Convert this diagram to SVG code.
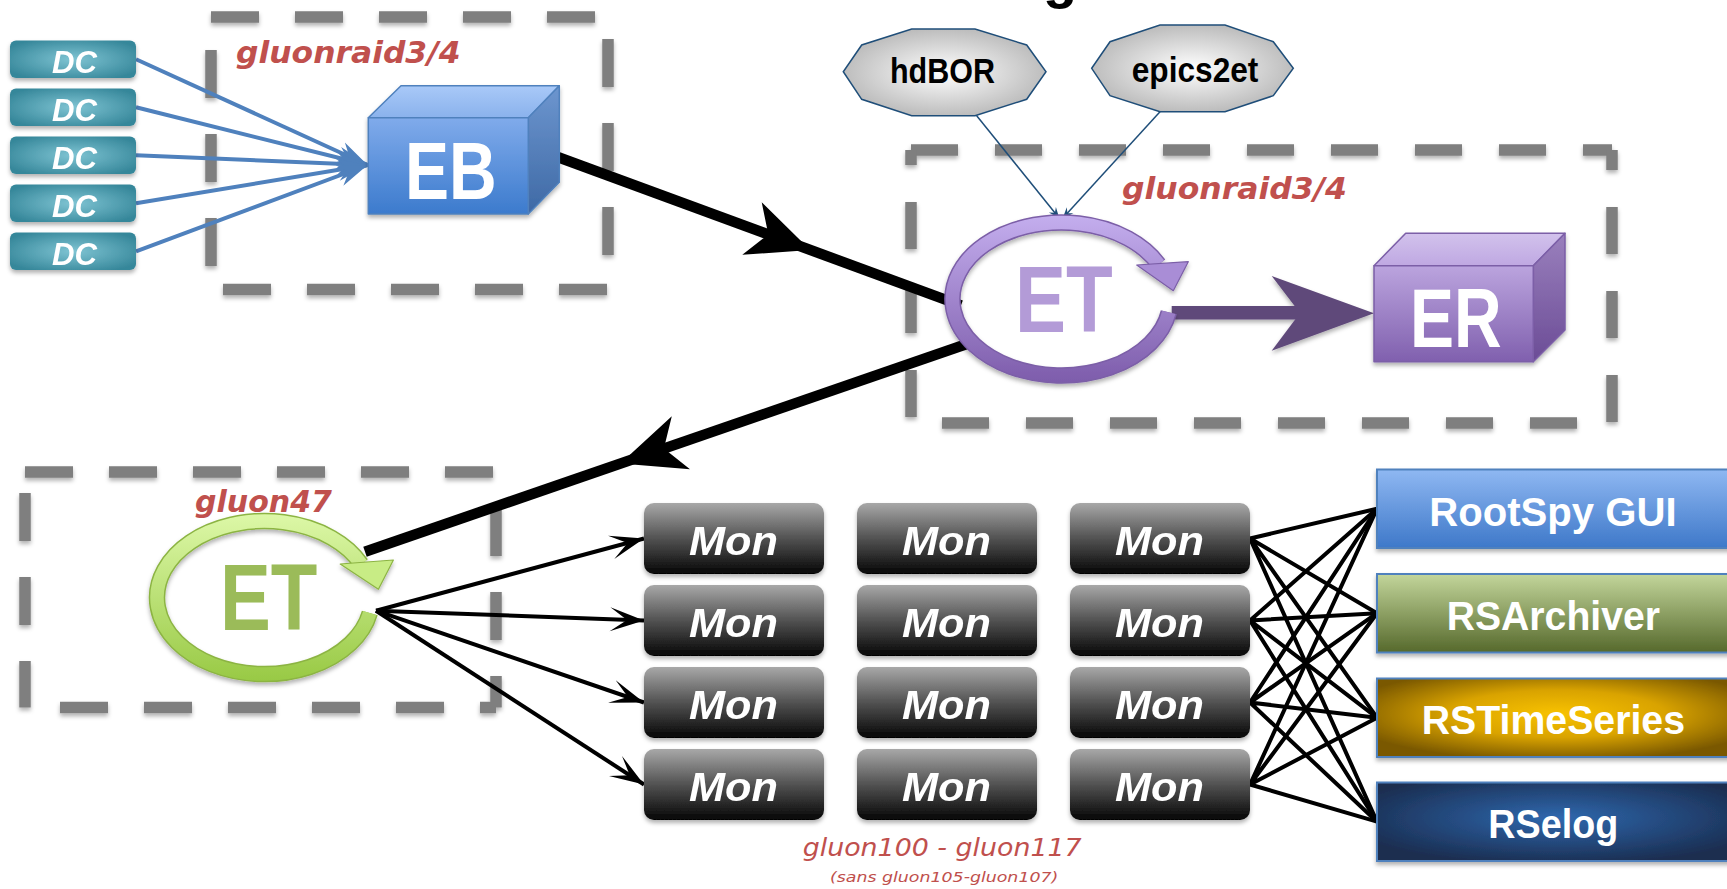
<svg xmlns="http://www.w3.org/2000/svg" width="1727" height="889" viewBox="0 0 1727 889">
<defs>
<style>
.sans{font-family:"Liberation Sans",Arial,sans-serif;font-weight:bold}
.wi{font-family:"Liberation Sans",Arial,sans-serif;font-weight:bold;font-style:italic;fill:#fff}
.red{font-family:"DejaVu Sans",sans-serif;font-style:italic;fill:#c0504d}
.dash{fill:none;stroke:#7f7f7f;stroke-width:11.5}
.d1{stroke-dasharray:48 36}
.d2{stroke-dasharray:47 37}
.mon{fill:url(#gMon)}
.k4{stroke:#000;stroke-width:4;fill:none}
.blue{stroke:#4f81bd;stroke-width:4;fill:none}
.navy{stroke:#1f4e79;stroke-width:1.5;fill:none}
.rbox{stroke:#4f81bd;stroke-width:2}
</style>
<filter id="sh" x="-10%" y="-20%" width="120%" height="150%">
<feDropShadow dx="0" dy="3" stdDeviation="2" flood-color="#000" flood-opacity="0.3"/>
</filter>
<linearGradient id="gMon" x1="0" y1="0" x2="0" y2="1">
<stop offset="0" stop-color="#a8a8a8"/><stop offset="0.45" stop-color="#5a5a5a"/><stop offset="1" stop-color="#050505"/>
</linearGradient>
<radialGradient id="gDC" cx="0.5" cy="0.5" r="0.6">
<stop offset="0" stop-color="#7fc4d3"/><stop offset="1" stop-color="#36879a"/>
</radialGradient>
<radialGradient id="gOct" cx="0.5" cy="0.5" r="0.6">
<stop offset="0" stop-color="#ffffff"/><stop offset="1" stop-color="#b0b0b0"/>
</radialGradient>
<linearGradient id="gRoot" x1="0" y1="0" x2="0" y2="1"><stop offset="0" stop-color="#8fb8f2"/><stop offset="1" stop-color="#3e78c9"/></linearGradient>
<linearGradient id="gArch" x1="0" y1="0" x2="0" y2="1"><stop offset="0" stop-color="#c3d69b"/><stop offset="1" stop-color="#56692c"/></linearGradient>
<radialGradient id="gTime" cx="0.5" cy="0.45" r="0.6"><stop offset="0" stop-color="#f8c200"/><stop offset="0.5" stop-color="#d9a300"/><stop offset="1" stop-color="#7a5800"/></radialGradient>
<radialGradient id="gElog" cx="0.5" cy="0.45" r="0.6"><stop offset="0" stop-color="#2f68ae"/><stop offset="1" stop-color="#1a2d50"/></radialGradient>
<linearGradient id="gEBf" x1="0" y1="0" x2="0" y2="1"><stop offset="0" stop-color="#80abeb"/><stop offset="1" stop-color="#3c7bcd"/></linearGradient>
<linearGradient id="gEBt" x1="0" y1="0" x2="0" y2="1"><stop offset="0" stop-color="#a9c9f8"/><stop offset="1" stop-color="#8ab2ec"/></linearGradient>
<linearGradient id="gEBr" x1="0" y1="0" x2="0" y2="1"><stop offset="0" stop-color="#6d96cf"/><stop offset="1" stop-color="#3e69a5"/></linearGradient>
<linearGradient id="gERf" x1="0" y1="0" x2="0" y2="1"><stop offset="0" stop-color="#bba4de"/><stop offset="1" stop-color="#8060ae"/></linearGradient>
<linearGradient id="gERt" x1="0" y1="0" x2="0" y2="1"><stop offset="0" stop-color="#d2c2ec"/><stop offset="1" stop-color="#bfa8e2"/></linearGradient>
<linearGradient id="gERr" x1="0" y1="0" x2="0" y2="1"><stop offset="0" stop-color="#9a80bd"/><stop offset="1" stop-color="#6b4c96"/></linearGradient>
<linearGradient id="gRingP" gradientUnits="userSpaceOnUse" x1="0" y1="215" x2="0" y2="383"><stop offset="0" stop-color="#c4aeee"/><stop offset="1" stop-color="#7d5cab"/></linearGradient>
<linearGradient id="gRingG" gradientUnits="userSpaceOnUse" x1="0" y1="513" x2="0" y2="682"><stop offset="0" stop-color="#ddf8a8"/><stop offset="1" stop-color="#98c944"/></linearGradient>
<marker id="mBlue" viewBox="-32 -12 34 24" markerWidth="34" markerHeight="24" markerUnits="userSpaceOnUse" refX="0" refY="0" orient="auto" overflow="visible">
<path d="M0,0 L-30,-11 L-20,0 L-30,11 Z" fill="#4f81bd"/>
</marker>
<marker id="mBlack" viewBox="-36 -13 38 26" markerWidth="38" markerHeight="26" markerUnits="userSpaceOnUse" refX="0" refY="0" orient="auto" overflow="visible">
<path d="M0,0 L-34,-12 L-17,0 L-34,12 Z" fill="#000"/>
</marker>
<marker id="mNavy" viewBox="-12 -5 13 10" markerWidth="13" markerHeight="10" markerUnits="userSpaceOnUse" refX="0" refY="0" orient="auto" overflow="visible">
<path d="M0,0 L-11,-4.5 L-7,0 L-11,4.5 Z" fill="#1f4e79"/>
</marker>
</defs>
<rect width="1727" height="889" fill="#ffffff"/>
<text class="sans" x="1060" y="-3.5" font-size="56" font-weight="normal" text-anchor="middle" fill="#000">g</text>

<g id="containers" filter="url(#sh)">
<g id="box-eb">
<path class="dash d1" d="M211,17 H608" stroke-dashoffset="0"/>
<path class="dash d1" d="M608,17 V290" stroke-dashoffset="62"/>
<path class="dash d1" d="M211,289.5 H608" stroke-dashoffset="72"/>
<path class="dash d1" d="M211,17 V290" stroke-dashoffset="51"/>
</g>
<g id="box-et">
<path class="dash d2" d="M911,150 H1612" stroke-dashoffset="0"/>
<path class="dash d2" d="M911,150 V423" stroke-dashoffset="32"/>
<path class="dash d2" d="M1612,150 V423" stroke-dashoffset="27"/>
<path class="dash d2" d="M911,423 H1612" stroke-dashoffset="53"/>
</g>
<g id="box-gluon47">
<path class="dash d1" d="M25,472 H496" stroke-dashoffset="0"/>
<path class="dash d1" d="M25,472 V707.5" stroke-dashoffset="63"/>
<path class="dash d1" d="M496,472 V707.5" stroke-dashoffset="48"/>
<path class="dash d1" d="M25,707.5 H496" stroke-dashoffset="49"/>
</g>
</g>

<g id="connectors">
<path class="blue" marker-end="url(#mBlue)" d="M136,59.3 L367.6,165"/>
<path class="blue" marker-end="url(#mBlue)" d="M136,107.3 L367.6,165"/>
<path class="blue" marker-end="url(#mBlue)" d="M136,155.3 L367.6,165"/>
<path class="blue" marker-end="url(#mBlue)" d="M136,203.3 L367.6,165"/>
<path class="blue" marker-end="url(#mBlue)" d="M136,251.3 L367.6,165"/>
<path d="M558.3,157.3 L961,305.4" stroke="#000" stroke-width="10.5" fill="none"/>
<polygon points="810.2,249.9 761.7,202.2 768.3,234.5 742.3,254.8" fill="#000"/>
<path d="M969,343.3 L365,551.7" stroke="#000" stroke-width="10.5" fill="none"/>
<polygon points="620.4,463.6 671.8,416.2 663.9,448.6 690,469.2" fill="#000"/>
<path class="navy" marker-end="url(#mNavy)" d="M976.7,115.7 L1059.3,218.3"/>
<path class="navy" marker-end="url(#mNavy)" d="M1160,111.7 L1062.7,218.3"/>
<g filter="url(#sh)">
<rect x="1171.7" y="306" width="130" height="13.5" fill="#5f497a"/>
<polygon points="1271.7,276 1374,313.3 1271.7,350.7 1300,313" fill="#5f497a"/>
</g>
<path class="k4" marker-end="url(#mBlack)" d="M376,610.7 L644,538.5"/>
<path class="k4" marker-end="url(#mBlack)" d="M376,610.7 L644,620.5"/>
<path class="k4" marker-end="url(#mBlack)" d="M376,610.7 L644,702.5"/>
<path class="k4" marker-end="url(#mBlack)" d="M376,610.7 L644,784.5"/>
<path class="k4" d="M1250,538.5 L1377,508.7 M1250,538.5 L1377,613.2 M1250,538.5 L1377,717.7 M1250,538.5 L1377,821.7"/>
<path class="k4" d="M1250,620.5 L1377,508.7 M1250,620.5 L1377,613.2 M1250,620.5 L1377,717.7 M1250,620.5 L1377,821.7"/>
<path class="k4" d="M1250,702.5 L1377,508.7 M1250,702.5 L1377,613.2 M1250,702.5 L1377,717.7 M1250,702.5 L1377,821.7"/>
<path class="k4" d="M1250,784.5 L1377,508.7 M1250,784.5 L1377,613.2 M1250,784.5 L1377,717.7 M1250,784.5 L1377,821.7"/>
</g>

<g id="dc1" filter="url(#sh)"><rect x="10" y="40.5" width="126" height="37.5" rx="6" fill="url(#gDC)"/><text class="wi" x="52" y="72.5" font-size="31" textLength="45" lengthAdjust="spacingAndGlyphs">DC</text></g>
<g id="dc2" filter="url(#sh)"><rect x="10" y="88.5" width="126" height="37.5" rx="6" fill="url(#gDC)"/><text class="wi" x="52" y="120.5" font-size="31" textLength="45" lengthAdjust="spacingAndGlyphs">DC</text></g>
<g id="dc3" filter="url(#sh)"><rect x="10" y="136.5" width="126" height="37.5" rx="6" fill="url(#gDC)"/><text class="wi" x="52" y="168.5" font-size="31" textLength="45" lengthAdjust="spacingAndGlyphs">DC</text></g>
<g id="dc4" filter="url(#sh)"><rect x="10" y="184.5" width="126" height="37.5" rx="6" fill="url(#gDC)"/><text class="wi" x="52" y="216.5" font-size="31" textLength="45" lengthAdjust="spacingAndGlyphs">DC</text></g>
<g id="dc5" filter="url(#sh)"><rect x="10" y="232.5" width="126" height="37.5" rx="6" fill="url(#gDC)"/><text class="wi" x="52" y="264.5" font-size="31" textLength="45" lengthAdjust="spacingAndGlyphs">DC</text></g>

<g id="eb">
<g filter="url(#sh)" stroke="#4f81bd" stroke-width="1.5" stroke-linejoin="round">
<polygon points="368.3,117.7 401,85.7 559.3,85.7 528.3,117.7" fill="url(#gEBt)"/>
<polygon points="528.3,117.7 559.3,85.7 559.3,182.3 528.3,214" fill="url(#gEBr)"/>
<rect x="368.3" y="117.7" width="160" height="96.3" fill="url(#gEBf)"/>
</g>
<text class="sans" x="405" y="199.3" font-size="82" fill="#fff" textLength="91.7" lengthAdjust="spacingAndGlyphs">EB</text>
</g>
<text id="lbl-eb" class="red" x="236" y="63.3" font-size="30" font-weight="bold" textLength="224.5" lengthAdjust="spacingAndGlyphs">gluonraid3/4</text>

<g id="hdbor">
<polygon points="843.3,71.7 861.7,45 911.7,29 975,29 1026.7,45 1046,71.7 1026.7,99.3 975,115.7 911.7,115.7 861.7,99.3" fill="url(#gOct)" stroke="#1f4e79" stroke-width="1.5"/>
<text class="sans" x="890" y="83.3" font-size="35" fill="#000" textLength="105" lengthAdjust="spacingAndGlyphs">hdBOR</text>
</g>
<g id="epics2et">
<polygon points="1091.7,68.3 1110,41.7 1160,25 1225,25 1273.3,41.7 1293.3,68.3 1273.3,95.7 1225,111.7 1160,111.7 1110,95.7" fill="url(#gOct)" stroke="#1f4e79" stroke-width="1.5"/>
<text class="sans" x="1131.7" y="81.7" font-size="35" fill="#000" textLength="126.7" lengthAdjust="spacingAndGlyphs">epics2et</text>
</g>

<g id="et-main">
<g filter="url(#sh)">
<path d="M1168.8,312.3 A109,76.5 0 1 1 1158.6,264.3" fill="none" stroke="#7b5ea7" stroke-width="16.5"/>
<path d="M1168.8,312.3 A109,76.5 0 1 1 1158.6,264.3" fill="none" stroke="url(#gRingP)" stroke-width="13.5"/>
<polygon points="1136.7,265 1188.3,261.7 1173.3,290.7" fill="#a98dd6" stroke="#7b5ea7" stroke-width="1.2" stroke-linejoin="round"/>
</g>
<text class="sans" x="1015" y="331.7" font-size="95" fill="#b39bd7" textLength="97.7" lengthAdjust="spacingAndGlyphs">ET</text>
</g>
<text id="lbl-et" class="red" x="1122" y="199.3" font-size="30" font-weight="bold" textLength="225" lengthAdjust="spacingAndGlyphs">gluonraid3/4</text>

<g id="er">
<g filter="url(#sh)" stroke="#7b5ea7" stroke-width="1.5" stroke-linejoin="round">
<polygon points="1374,265.7 1405.7,233.3 1565,233.3 1533.3,265.7" fill="url(#gERt)"/>
<polygon points="1533.3,265.7 1565,233.3 1565,330 1533.3,361.7" fill="url(#gERr)"/>
<rect x="1374" y="265.7" width="159.3" height="96" fill="url(#gERf)"/>
</g>
<text class="sans" x="1410" y="346.7" font-size="83" fill="#fff" textLength="91.7" lengthAdjust="spacingAndGlyphs">ER</text>
</g>

<g id="et-gluon47">
<g filter="url(#sh)">
<path d="M369.8,613 A107.5,76.5 0 1 1 361.1,564" fill="none" stroke="#8cb443" stroke-width="16.5"/>
<path d="M369.8,613 A107.5,76.5 0 1 1 361.1,564" fill="none" stroke="url(#gRingG)" stroke-width="13.5"/>
<polygon points="340.2,564 393.4,560 378.4,589.3" fill="#c8ec85" stroke="#8cb443" stroke-width="1.2" stroke-linejoin="round"/>
</g>
<text class="sans" x="220" y="630" font-size="94" fill="#9bbb59" textLength="97.4" lengthAdjust="spacingAndGlyphs">ET</text>
</g>
<text id="lbl-gluon47" class="red" x="195" y="511.7" font-size="30" font-weight="bold" textLength="137" lengthAdjust="spacingAndGlyphs">gluon47</text>

<g id="mon-1-1" filter="url(#sh)"><rect class="mon" x="644" y="503" width="180" height="71" rx="10"/><text class="wi" x="689" y="555" font-size="41" textLength="89" lengthAdjust="spacingAndGlyphs">Mon</text></g>
<g id="mon-1-2" filter="url(#sh)"><rect class="mon" x="857" y="503" width="180" height="71" rx="10"/><text class="wi" x="902" y="555" font-size="41" textLength="89" lengthAdjust="spacingAndGlyphs">Mon</text></g>
<g id="mon-1-3" filter="url(#sh)"><rect class="mon" x="1070" y="503" width="180" height="71" rx="10"/><text class="wi" x="1115" y="555" font-size="41" textLength="89" lengthAdjust="spacingAndGlyphs">Mon</text></g>
<g id="mon-2-1" filter="url(#sh)"><rect class="mon" x="644" y="585" width="180" height="71" rx="10"/><text class="wi" x="689" y="637" font-size="41" textLength="89" lengthAdjust="spacingAndGlyphs">Mon</text></g>
<g id="mon-2-2" filter="url(#sh)"><rect class="mon" x="857" y="585" width="180" height="71" rx="10"/><text class="wi" x="902" y="637" font-size="41" textLength="89" lengthAdjust="spacingAndGlyphs">Mon</text></g>
<g id="mon-2-3" filter="url(#sh)"><rect class="mon" x="1070" y="585" width="180" height="71" rx="10"/><text class="wi" x="1115" y="637" font-size="41" textLength="89" lengthAdjust="spacingAndGlyphs">Mon</text></g>
<g id="mon-3-1" filter="url(#sh)"><rect class="mon" x="644" y="667" width="180" height="71" rx="10"/><text class="wi" x="689" y="719" font-size="41" textLength="89" lengthAdjust="spacingAndGlyphs">Mon</text></g>
<g id="mon-3-2" filter="url(#sh)"><rect class="mon" x="857" y="667" width="180" height="71" rx="10"/><text class="wi" x="902" y="719" font-size="41" textLength="89" lengthAdjust="spacingAndGlyphs">Mon</text></g>
<g id="mon-3-3" filter="url(#sh)"><rect class="mon" x="1070" y="667" width="180" height="71" rx="10"/><text class="wi" x="1115" y="719" font-size="41" textLength="89" lengthAdjust="spacingAndGlyphs">Mon</text></g>
<g id="mon-4-1" filter="url(#sh)"><rect class="mon" x="644" y="749" width="180" height="71" rx="10"/><text class="wi" x="689" y="801" font-size="41" textLength="89" lengthAdjust="spacingAndGlyphs">Mon</text></g>
<g id="mon-4-2" filter="url(#sh)"><rect class="mon" x="857" y="749" width="180" height="71" rx="10"/><text class="wi" x="902" y="801" font-size="41" textLength="89" lengthAdjust="spacingAndGlyphs">Mon</text></g>
<g id="mon-4-3" filter="url(#sh)"><rect class="mon" x="1070" y="749" width="180" height="71" rx="10"/><text class="wi" x="1115" y="801" font-size="41" textLength="89" lengthAdjust="spacingAndGlyphs">Mon</text></g>

<g id="rootspy"><rect class="rbox" x="1377" y="469.5" width="360" height="78.5" fill="url(#gRoot)" filter="url(#sh)"/><text class="sans" x="1429.3" y="526" font-size="41" fill="#fff" textLength="247.3" lengthAdjust="spacingAndGlyphs">RootSpy GUI</text></g>
<g id="rsarchiver"><rect class="rbox" x="1377" y="574" width="360" height="78.5" fill="url(#gArch)" filter="url(#sh)"/><text class="sans" x="1446.7" y="630" font-size="41" fill="#fff" textLength="213.3" lengthAdjust="spacingAndGlyphs">RSArchiver</text></g>
<g id="rstimeseries"><rect class="rbox" x="1377" y="678.5" width="360" height="78.5" fill="url(#gTime)" filter="url(#sh)"/><text class="sans" x="1421.7" y="734" font-size="41" fill="#fff" textLength="263.3" lengthAdjust="spacingAndGlyphs">RSTimeSeries</text></g>
<g id="rselog"><rect class="rbox" x="1377" y="782.5" width="360" height="78.5" fill="url(#gElog)" filter="url(#sh)"/><text class="sans" x="1488.3" y="838.3" font-size="41" fill="#fff" textLength="130" lengthAdjust="spacingAndGlyphs">RSelog</text></g>

<g id="lbl-mon">
<text class="red" x="802.7" y="856" font-size="24" textLength="279" lengthAdjust="spacingAndGlyphs">gluon100 - gluon117</text>
<text class="red" x="830" y="881.7" font-size="14" textLength="228.3" lengthAdjust="spacingAndGlyphs">(sans gluon105-gluon107)</text>
</g>
</svg>
